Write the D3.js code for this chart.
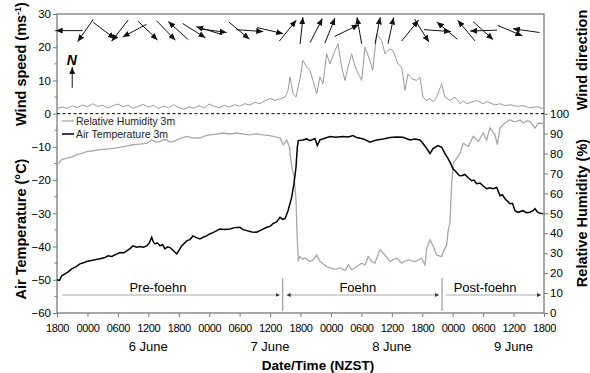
<!DOCTYPE html>
<html>
<head>
<meta charset="utf-8">
<script src="https://cdn.jsdelivr.net/npm/d3@7"></script>
<style>
  body { margin: 0; background: #fff; }
  svg { font-family: "Liberation Sans", Arial, sans-serif; }
</style>
</head>
<body>
<svg id="chart" width="590" height="373"></svg>
<script>
// hours since 1800 NZST 5 June
const windSpeed = [
  [0,1.5],[1,2.0],[2,1.6],[3,2.3],[4,1.8],[5,2.6],[6,2.1],[7,3.0],[8,2.2],[9,2.5],[10,1.7],[11,2.4],
  [12,2.9],[13,2.1],[14,2.6],[15,1.6],[16,2.2],[17,2.8],[18,2.0],[19,2.5],[20,1.5],[21,2.3],[22,1.8],
  [23,2.7],[24,1.9],[25,1.3],[26,2.1],[27,1.6],[28,2.4],[29,1.7],[30,2.9],[31,2.2],[32,1.8],[33,2.5],
  [34,2.0],[35,2.7],[36,2.3],[37,3.0],[38,2.6],[39,3.4],[40,3.0],[41,3.9],[42,4.6],[43,4.0],
  [43.96,4.5],[44.95,5],[45.54,7],[45.93,11],[46.52,6],[47.11,5],[47.9,10.5],[48.49,16],[49.22,14],
  [49.87,13],[50.46,10],[51.19,6],[51.84,11],[52.43,9],[53.16,18],[53.81,15],[54.8,19],[55.39,21],
  [56.12,14],[56.77,10],[57.36,14],[58.09,18],[58.6,15],[59.08,13],[60.06,10],[60.71,20],[61.7,16],
  [62.23,13],[63.02,24],[64.0,22],[64.66,18],[65.25,19],[65.64,19.5],[66.23,19],[67.22,15],[67.95,14],
  [68.6,7],[69.19,12],[69.92,10.5],[70.9,10],[71.55,11],[72.15,5],[72.8,4],[73.53,4.5],[74.2,3.6],
  [74.85,5],[75.83,9],[76.48,5],[77.47,4],[78.45,5],[79.44,3],[80.1,3.8],[80.76,3],[81.8,3.5],
  [82.73,4],[83.97,3],[84.6,3.6],[85.35,3.3],[86.3,2.6],[87.33,3],[88.3,2.4],[89.3,2.7],[90.6,2.2],
  [91.86,2.4],[93.2,1.8],[94.56,2.1],[95.8,1.5]
];

const airTemp = [
  [0,-50],[0.5,-50.2],[0.93,-48.8],[1.58,-48.2],[2.2,-47.6],[2.9,-46.7],[3.7,-46.1],[4.53,-45.2],
  [5.2,-44.9],[5.85,-44.5],[7,-44.1],[8.48,-43.7],[9.3,-43.4],[10.05,-42.8],[10.8,-43],[11.43,-42.5],
  [12.42,-41.8],[13.1,-41.9],[13.74,-41.3],[14.4,-40.6],[14.98,-39.8],[15.7,-40.2],[16.36,-40],
  [17.0,-40.2],[17.68,-39.8],[18.2,-38.9],[18.67,-37.2],[19.0,-38.6],[19.32,-39.2],[19.8,-38.9],
  [20.3,-39.8],[20.8,-39.4],[21.29,-40.7],[21.8,-40.1],[22.28,-40.3],[22.9,-41.2],[23.6,-42.2],
  [24.1,-41.0],[24.58,-39.8],[25.57,-38.3],[26.2,-37.9],[26.81,-36.8],[27.5,-37.3],[28.19,-37.7],
  [28.8,-37.2],[29.5,-36.8],[30.1,-36.2],[30.75,-35.8],[31.4,-35.3],[32.13,-34.7],[33,-34.9],
  [34.1,-34.7],[35,-34.3],[36.07,-34.2],[36.7,-34.9],[37.39,-35.2],[38.4,-35.6],[39.37,-35.7],
  [40.3,-35.0],[41.34,-34.2],[42,-33.9],[42.58,-33.1],[43.3,-32.6],[43.96,-31.2],[44.5,-31.8],
  [44.95,-31.6],[45.54,-29.2],[46.26,-25.2],[46.72,-21],[47.11,-16.2],[47.37,-10.1],[47.57,-8.1],
  [48.49,-7.9],[49.2,-7.6],[49.87,-8.1],[50.86,-7.5],[51.31,-9.6],[51.84,-7.9],[52.8,-7.4],
  [53.81,-6.9],[55,-7.1],[56.38,-6.9],[57.4,-7.0],[58.35,-6.6],[59.08,-7.2],[60.4,-7.6],[61.7,-8.6],
  [62.4,-8.2],[63.02,-7.9],[64.3,-7.6],[65.64,-7.2],[67,-7.0],[68.2,-7.1],[69.58,-7.9],[70.5,-7.6],
  [71.55,-7.9],[72.15,-9],[72.88,-10.5],[73.53,-12],[74.12,-10.5],[75.1,-9.6],[75.83,-10.1],
  [76.48,-12],[77.0,-13.3],[77.47,-14.6],[78.06,-16.6],[78.79,-17.7],[79.3,-18.6],[79.77,-18.7],
  [80.4,-18.3],[81.02,-19.2],[81.75,-20.2],[82.2,-20.0],[82.73,-21.1],[83.4,-20.9],[83.97,-21.7],
  [84.7,-22.6],[85.3,-22.3],[85.95,-22.6],[86.68,-22.2],[87.33,-24.7],[87.8,-24.4],[88.31,-25.6],
  [89.3,-27.1],[89.8,-27.0],[90.28,-29.2],[90.87,-29.7],[91.86,-29.2],[92.5,-29.8],[93.24,-29.7],
  [93.8,-29.2],[94.22,-28.6],[94.7,-29.6],[95.21,-30],[95.8,-30.1]
];

const relHumidity = [
  [0.06,74.4],[0.93,77],[1.91,77.7],[2.9,78.2],[3.88,79.4],[4.9,80.1],[5.85,81],[7.2,81.4],[8.48,82],
  [10.1,82.3],[11.77,82.8],[13.4,83.6],[14.98,84.4],[16.3,84.7],[17.68,85.2],[18.2,85.9],[18.67,86.8],
  [19.5,85.7],[20.3,86],[21.0,86.9],[21.62,86.8],[22.3,85.8],[22.87,86],[24.2,87.5],[25.57,88.6],
  [26.9,87.7],[28.19,87.8],[29.2,88.9],[30.16,89.4],[31.5,89.7],[32.72,90.3],[34.1,89.8],[35.42,90.3],
  [36.7,89.7],[38.04,89.4],[39.3,89.9],[40.6,89.4],[41.6,89.1],[42.58,88.6],[43.96,87.8],[44.61,84.4],
  [45.28,86.8],[45.79,83.7],[46.26,73.5],[46.72,68.5],[47.11,56.8],[47.37,36.7],[47.57,26.6],
  [47.9,28.3],[48.4,27.0],[48.89,27.6],[49.87,25.8],[50.46,26.6],[51.19,29.1],[51.84,25.8],
  [52.5,24.6],[53.16,23.3],[54.41,22.1],[55.1,22.0],[55.78,22.6],[56.77,21.3],[57.42,24.1],
  [58.09,21.6],[59.08,23.3],[60.06,25],[60.71,24.1],[61.36,28.3],[62.03,25.8],[62.68,25],
  [63.67,31.7],[64.66,29.1],[65.64,25.8],[66.3,26.9],[66.96,27.5],[67.95,25],[68.6,26.1],
  [69.25,26.6],[70.57,25.8],[71.2,26.6],[71.89,27.5],[72.54,24.1],[72.88,32.5],[73.53,36.7],
  [74.18,33.4],[74.85,29.1],[75.83,28.3],[76.15,30.8],[76.82,34.2],[77.13,41.7],[77.47,45.2],
  [77.8,65.3],[78.12,75.2],[78.79,77.7],[79.44,80.2],[80.09,85.2],[81.08,83.6],[82.07,88.6],
  [83.05,86.1],[84.03,90.3],[84.7,86.8],[85.35,92.8],[86.34,89.4],[86.8,84.4],[87.33,92.8],
  [88.31,95.3],[89.3,97],[90.0,96.0],[90.62,96.1],[91.3,96.8],[91.92,95.3],[92.6,96.4],[93.24,96.1],
  [94.22,92.8],[94.87,95.3],[95.86,95]
];

// wind direction arrows: time (h) and bearing the arrow points to (deg, 0 = north)
const windDirHours = [2.4, 5.6, 9.3, 12.4, 15.3, 17.9, 21.5, 23.9, 27.0, 30.0, 30.8, 35.9, 38.0, 42.0,
  45.5, 48.2, 51.1, 53.8, 57.1, 59.6, 63.2, 65.8, 69.6, 71.9, 75.0, 76.9, 80.7, 84.0, 84.1, 89.3, 92.5];
const windDirDeg = [270, 215, 127, 218, 242, 134, 136, 312, 122, 287, 98, 130, 94, 103,
  39, 6, 27, 22, 64, 350, 11, 12, 39, 148, 94, 310, 320, 132, 268, 113, 278];

const leftTicks = [-60, -50, -40, -30, -20, -10, 0, 10, 20, 30];
const rhTicks = [0, 10, 20, 30, 40, 50, 60, 70, 80, 90, 100];
const dayLabels = [["6 June", 18], ["7 June", 42], ["8 June", 66], ["9 June", 90]];
const phaseNames = ["Pre-foehn", "Foehn", "Post-foehn"];
const phaseBounds = [1, 44.5, 75.9, 96];
const phaseLabelHours = [19.9, 59.3, 84.4];
const seriesNames = ["Relative Humidity 3m", "Air Temperature 3m"];

const start = Date.UTC(2011, 5, 5, 18);
const t = h => new Date(start + h * 3600e3);

const svg = d3.select("#chart");
const margin = { top: 14, right: 46, bottom: 60, left: 57 };
const W = 590, H = 373;
const x0 = margin.left, x1 = W - margin.right, yTop = margin.top, yBot = H - margin.bottom;

const x = d3.scaleUtc().domain([t(0), t(96)]).range([x0, x1]);
const yL = d3.scaleLinear().domain([-60, 30]).range([yBot, yTop]);
const yR = d3.scaleLinear().domain([0, 100]).range([yBot, yL(0)]);

const defs = svg.append("defs");
function marker(id, w, h, color) {
  defs.append("marker").attr("id", id)
    .attr("markerUnits", "userSpaceOnUse")
    .attr("viewBox", `0 0 ${w} ${h}`)
    .attr("markerWidth", w).attr("markerHeight", h)
    .attr("refX", w).attr("refY", h / 2)
    .attr("orient", "auto-start-reverse")
    .append("path").attr("d", `M0,0L${w},${h / 2}L0,${h}Z`).attr("fill", color);
}
marker("wd", 7, 6, "#111");
marker("ph", 4, 4, "#333");

const frameColor = "#7a7a7a";

// frame
svg.append("rect").attr("x", x0).attr("y", yTop).attr("width", x1 - x0).attr("height", yBot - yTop)
  .attr("fill", "none").attr("stroke", frameColor).attr("stroke-width", 1.3);

// zero line / panel split
svg.append("line").attr("x1", x0).attr("x2", x1).attr("y1", yL(0)).attr("y2", yL(0))
  .attr("stroke", "#000").attr("stroke-width", 1).attr("stroke-dasharray", "3,2.5");

// left axis
const gL = svg.append("g").attr("transform", `translate(${x0},0)`)
  .call(d3.axisLeft(yL).tickValues(leftTicks).tickSize(4).tickPadding(2).tickFormat(d3.format("d")));
gL.selectAll(".tick line").attr("stroke", frameColor);
gL.append("g").selectAll("line").data(d3.range(-55, 30, 10)).join("line")
  .attr("x1", 0).attr("x2", -2.5).attr("y1", d => yL(d)).attr("y2", d => yL(d)).attr("stroke", frameColor);

// right axis
const gR = svg.append("g").attr("transform", `translate(${x1},0)`)
  .call(d3.axisRight(yR).tickValues(rhTicks).tickSize(4).tickPadding(2));
gR.selectAll(".tick line").attr("stroke", frameColor);

// bottom axis
const gB = svg.append("g").attr("transform", `translate(0,${yBot})`)
  .call(d3.axisBottom(x).ticks(d3.utcHour.every(6)).tickSize(4).tickPadding(7).tickFormat(d3.utcFormat("%H%M")));
gB.selectAll(".tick line").attr("stroke", frameColor);

[gL, gR, gB].forEach(g => {
  g.select(".domain").remove();
  g.selectAll(".tick text").attr("fill", "#000").attr("font-family", "Liberation Sans, Arial, sans-serif");
});
gL.selectAll(".tick text").attr("font-size", 11.5);
gR.selectAll(".tick text").attr("font-size", 11.5);
gB.selectAll(".tick text").attr("font-size", 11).attr("letter-spacing", -0.35);

// day labels
svg.append("g").selectAll("text").data(dayLabels).join("text")
  .attr("x", d => x(t(d[1]))).attr("y", 350.5).attr("text-anchor", "middle")
  .attr("font-size", 13).text(d => d[0]);

// series
const line = yScale => d3.line().x(d => x(t(d[0]))).y(d => yScale(d[1]));
svg.append("path").datum(windSpeed).attr("d", line(yL))
  .attr("fill", "none").attr("stroke", "#9a9a9a").attr("stroke-width", 1);
svg.append("path").datum(relHumidity).attr("d", line(yR))
  .attr("fill", "none").attr("stroke", "#a8a8a8").attr("stroke-width", 1.3);
svg.append("path").datum(airTemp).attr("d", line(yL))
  .attr("fill", "none").attr("stroke", "#000").attr("stroke-width", 1.5);

// wind direction arrows
const arrowLen = 27, arrowY = yL(25);
svg.append("g").selectAll("line").data(windDirHours.map((h, i) => [h, windDirDeg[i]])).join("line")
  .each(function (d) {
    const cx = x(t(d[0])), a = d[1] * Math.PI / 180;
    const dx = Math.sin(a) * arrowLen / 2, dy = -Math.cos(a) * arrowLen / 2;
    d3.select(this).attr("x1", cx - dx).attr("y1", arrowY - dy).attr("x2", cx + dx).attr("y2", arrowY + dy);
  })
  .attr("stroke", "#111").attr("stroke-width", 1).attr("marker-end", "url(#wd)");

// north indicator
const nx = x(t(3));
svg.append("line").attr("x1", nx).attr("x2", nx).attr("y1", yL(7.8)).attr("y2", yL(14))
  .attr("stroke", "#111").attr("stroke-width", 1).attr("marker-end", "url(#wd)");
svg.append("text").attr("x", nx - 0.5).attr("y", yL(14.6)).attr("text-anchor", "middle")
  .attr("font-size", 14).attr("font-weight", "bold").attr("font-style", "italic").text("N");

// legend
const legend = svg.append("g");
[["#a8a8a8", 1.3], ["#000", 1.5]].forEach((s, i) => {
  const ly = 121 + i * 13;
  legend.append("line").attr("x1", 62).attr("x2", 74).attr("y1", ly).attr("y2", ly)
    .attr("stroke", s[0]).attr("stroke-width", s[1]);
  legend.append("text").attr("x", 76).attr("y", ly + 3.8).attr("font-size", 10.5).attr("fill", "#222")
    .text(seriesNames[i]);
});

// phases
const ph = svg.append("g");
[phaseBounds[1], phaseBounds[2]].forEach(h => {
  ph.append("line").attr("x1", x(t(h))).attr("x2", x(t(h))).attr("y1", 278).attr("y2", 311)
    .attr("stroke", "#888").attr("stroke-width", 1);
});
phaseNames.forEach((name, i) => {
  const a = x(t(phaseBounds[i])) + (i === 0 ? 0 : 4);
  const b = x(t(phaseBounds[i + 1])) - 3;
  const l = ph.append("line").attr("x1", a).attr("x2", b).attr("y1", 295).attr("y2", 295)
    .attr("stroke", "#aaa").attr("stroke-width", 1).attr("marker-end", "url(#ph)");
  if (i === 1) l.attr("marker-start", "url(#ph)");
  ph.append("text").attr("x", x(t(phaseLabelHours[i]))).attr("y", 291.5).attr("text-anchor", "middle")
    .attr("font-size", 13).text(name);
});

// axis titles
function vtitle(px, py, parts) {
  const tx = svg.append("text").attr("transform", `translate(${px},${py}) rotate(-90)`)
    .attr("text-anchor", "middle").attr("font-size", 14.5).attr("font-weight", "bold");
  parts.forEach(p => {
    const s = tx.append("tspan").text(p[0]);
    if (p[1]) s.attr("font-size", 9).attr("baseline-shift", "super");
  });
}
vtitle(26, 64, [["Wind speed (ms"], ["-1", true], [")"]]);
vtitle(26, 229, [["Air Temperature (\u00B0C)"]]);
vtitle(587, 60, [["Wind direction"]]);
vtitle(587, 213, [["Relative Humidity (%)"]]);

svg.append("text").attr("x", 318).attr("y", 370).attr("text-anchor", "middle")
  .attr("font-size", 13.5).attr("font-weight", "bold").text("Date/Time (NZST)");
</script>
</body>
</html>
